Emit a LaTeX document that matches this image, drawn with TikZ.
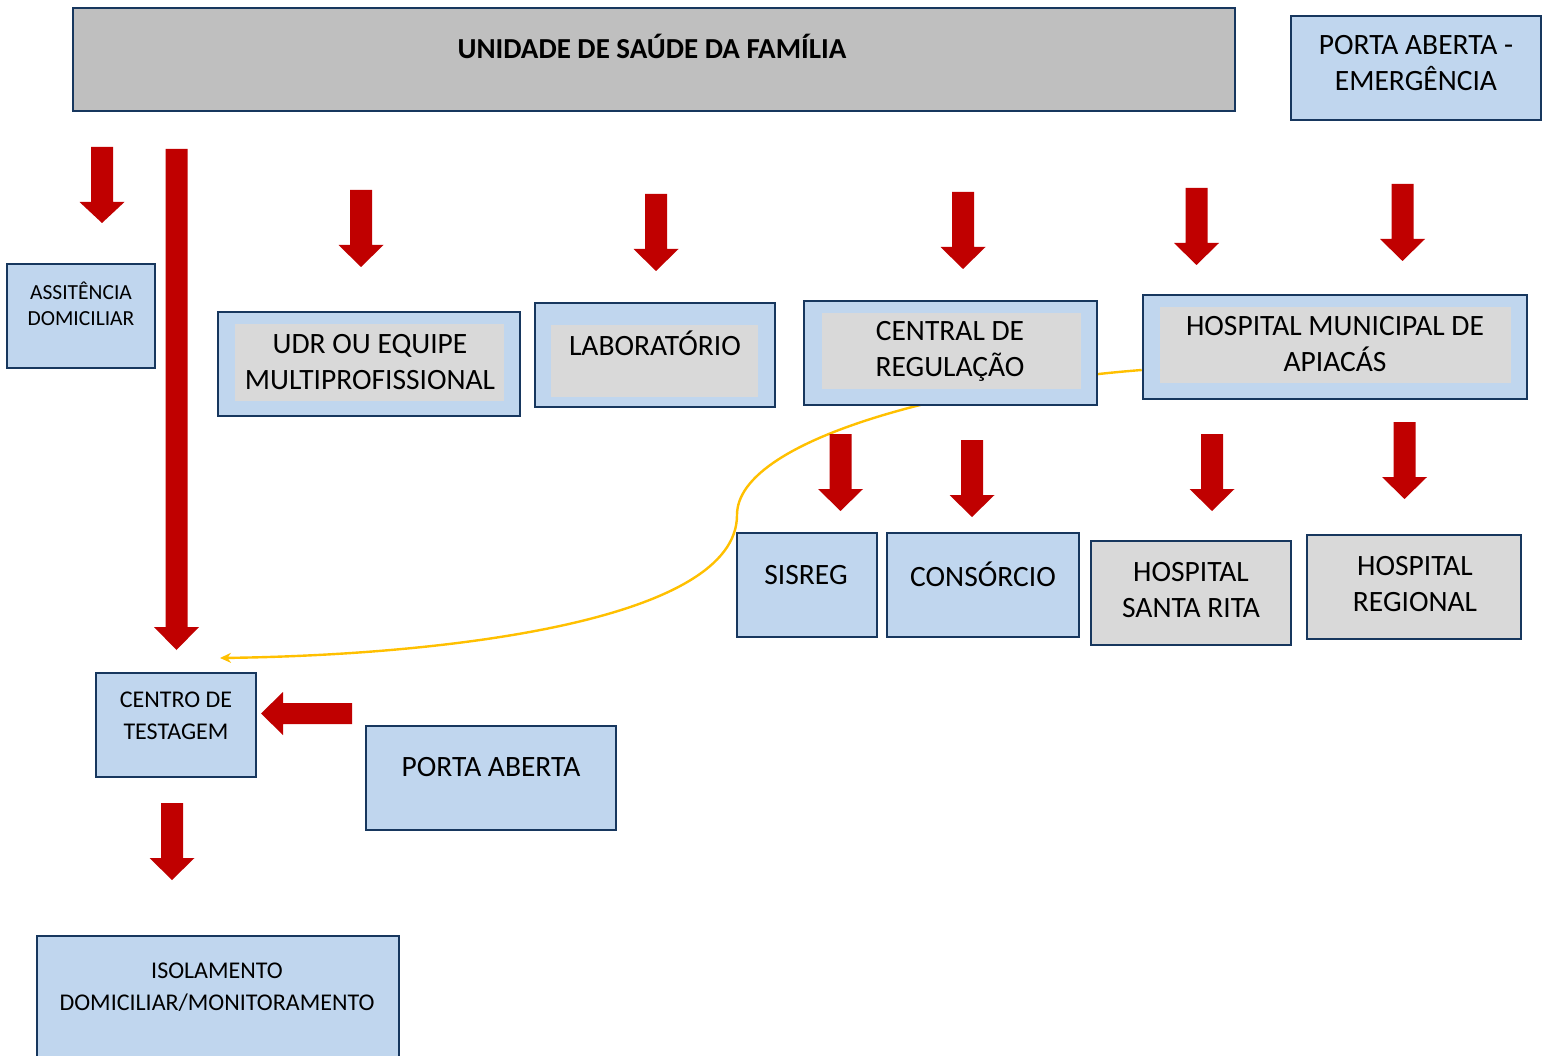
\documentclass[tikz,border=0pt]{standalone}
\usepackage{fontspec}
\setmainfont{Carlito}
\usetikzlibrary{arrows.meta}
\definecolor{boxblue}{RGB}{192,214,238}
\definecolor{boxline}{RGB}{23,55,94}
\definecolor{grayin}{RGB}{217,217,217}
\definecolor{grayusf}{RGB}{191,191,191}
\definecolor{arrred}{RGB}{192,0,0}
\definecolor{curveyel}{RGB}{255,192,0}
\newcommand\bx[6]{\node[#6, minimum width={(#4-#2)*1pt}, minimum height={(#5-#3)*1pt}] (#1) at ({(#2+#4)/2},{(#3+#5)/2}) {};}
\newcommand\arrdown[4]{\fill[arrred] ({#1-11},#2) -- ({#1+11},#2) -- ({#1+11},#3) -- ({#1+22.5},#3) -- (#1,#4) -- ({#1-22.5},#3) -- ({#1-11},#3) -- cycle;}
\tikzset{
  bluebox/.style={draw=boxline, line width=2.6pt, fill=boxblue, inner sep=0pt, rectangle},
  graybox/.style={draw=boxline, line width=2.6pt, fill=grayin, inner sep=0pt, rectangle},
  usfbox/.style={draw=boxline, line width=2.6pt, fill=grayusf, inner sep=0pt, rectangle},
  innerbox/.style={fill=grayin, draw=none, inner sep=0pt, rectangle},
  bigtxt/.style={font=\fontsize{29.5}{36}\selectfont, align=center, inner sep=0pt},
  midtxt/.style={font=\fontsize{24}{32}\selectfont, align=center, inner sep=0pt},
  smalltxt/.style={font=\fontsize{21.5}{26}\selectfont, align=center, inner sep=0pt},
  yelcurve/.style={draw=curveyel, line width=2.4pt, -{Stealth[length=11pt,width=10pt]}}
}
\begin{document}
\begin{tikzpicture}[x=1pt,y=-1pt]
\useasboundingbox[fill=white] (0,0) rectangle (1542,1056);
% boxes
\bx{usf}{73}{8}{1235}{111}{usfbox}
\bx{pae}{1291}{16}{1541}{120}{bluebox}
\bx{ad}{7}{264}{155}{368}{bluebox}
\bx{udr}{218}{312}{520}{416}{bluebox}
\bx{udrin}{235}{324}{504}{401}{innerbox}
\bx{lab}{535}{303}{775}{407}{bluebox}
\bx{labin}{551}{325}{758}{397}{innerbox}
\coordinate (arrowend) at (220,658);
\bx{hm}{1143}{295}{1527}{399}{bluebox}
\draw[yelcurve] ([yshift=-23pt]hm.west) .. controls (950,385) and (737,440) .. (737,515)
   .. controls (737,620) and (450,655) .. (arrowend);
\bx{hmin}{1160}{307}{1511}{383}{innerbox}
\bx{cr}{804}{301}{1097}{405}{bluebox}
\bx{crin}{822}{313}{1081}{389}{innerbox}
\bx{sis}{737}{533}{877}{637}{bluebox}
\bx{con}{887}{533}{1079}{637}{bluebox}
\bx{hsr}{1091}{541}{1291}{645}{graybox}
\bx{hr}{1307}{535}{1521}{639}{graybox}
\bx{ct}{96}{673}{256}{777}{bluebox}
\bx{pa}{366}{726}{616}{830}{bluebox}
\bx{iso}{37}{936}{399}{1066}{bluebox}
% texts
\node[font=\bfseries\fontsize{29}{32}\selectfont, inner sep=0pt] (tusf) at (652,46) {UNIDADE DE SAÚDE DA FAMÍLIA};
\node[bigtxt] (tpae) at (1416,63) {PORTA ABERTA -\\EMERGÊNCIA};
\node[smalltxt] (tad) at (81,304) {ASSITÊNCIA\\DOMICILIAR};
\node[bigtxt] (tudr) at (370,362) {UDR OU EQUIPE\\MULTIPROFISSIONAL};
\node[bigtxt] (tlab) at (655,343) {LABORATÓRIO};
\node[bigtxt] (tcr) at (950,351) {CENTRAL DE\\REGULAÇÃO};
\node[bigtxt] (thm) at (1335,344) {HOSPITAL MUNICIPAL DE\\APIACÁS};
\node[bigtxt] (tsis) at (806,575) {SISREG};
\node[bigtxt] (tcon) at (983,574) {CONSÓRCIO};
\node[bigtxt] (thsr) at (1191,590) {HOSPITAL\\SANTA RITA};
\node[bigtxt] (thr) at (1415,584) {HOSPITAL\\REGIONAL};
\node[midtxt] (tct) at (176,716) {CENTRO DE\\TESTAGEM};
\node[bigtxt] (tpa) at (491,767) {PORTA ABERTA};
\node[midtxt] (tiso) at (217,987) {ISOLAMENTO\\DOMICILIAR/MONITORAMENTO};
% red block arrows
\arrdown{102}{147}{202}{223}
\arrdown{176.5}{149}{627}{650}
\arrdown{361}{190}{245}{267}
\arrdown{656}{194}{249}{271}
\arrdown{963}{192}{247}{269}
\arrdown{1196.5}{188}{243}{265}
\arrdown{1402.5}{184}{239}{261}
\arrdown{840.5}{434}{489}{511}
\arrdown{972}{440}{495}{517}
\arrdown{1212}{434}{489}{511}
\arrdown{1404.5}{422}{477}{499}
\arrdown{172}{803}{858}{880}
\fill[arrred] (352,703) -- (352,724) -- (283,724) -- (283,735) -- (261,713.5) -- (283,692) -- (283,703) -- cycle;
\end{tikzpicture}
\end{document}
